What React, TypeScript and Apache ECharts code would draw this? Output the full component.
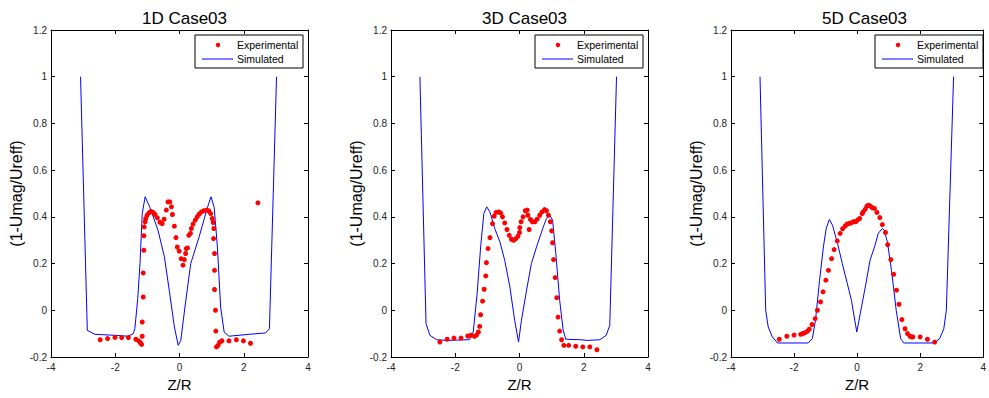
import React, { useEffect, useRef } from "react";
import * as echarts from "echarts";

const titles = ["1D Case03", "3D Case03", "5D Case03"];
const xTicks = [-4, -2, 0, 2, 4];
const yRange = [-0.2, 1.2];

const sim1D: [number, number][] = [
  [-3.08, 1.0], [-2.87, -0.086], [-2.63, -0.103], [-2.17, -0.106], [-1.6, -0.111], [-1.44, -0.1],
  [-1.39, -0.079], [-1.3, 0.05], [-1.23, 0.2], [-1.16, 0.414], [-1.07, 0.486], [-0.92, 0.44],
  [-0.67, 0.343], [-0.47, 0.229], [-0.32, 0.086], [-0.16, -0.071], [-0.04, -0.15], [0.04, -0.129],
  [0.17, 0.014], [0.35, 0.2], [0.61, 0.314], [0.87, 0.44], [0.98, 0.486], [1.08, 0.44],
  [1.18, 0.271], [1.28, 0.014], [1.39, -0.093], [1.54, -0.111], [2.16, -0.103], [2.68, -0.097],
  [2.8, -0.079], [3.02, 1.0],
];
const exp1D: [number, number][] = [
  [-2.47, -0.126], [-2.24, -0.121], [-2.01, -0.116], [-1.8, -0.117], [-1.59, -0.117], [-1.36, -0.124],
  [-1.27, -0.131], [-1.22, -0.139], [-1.18, -0.146], [-1.16, -0.111], [-1.16, -0.05], [-1.13, 0.057],
  [-1.13, 0.16], [-1.11, 0.257], [-1.11, 0.319], [-1.1, 0.357], [-1.07, 0.379], [-1.05, 0.393],
  [-1.01, 0.407], [-0.95, 0.417], [-0.89, 0.423], [-0.82, 0.419], [-0.76, 0.41], [-0.69, 0.396],
  [-0.61, 0.377], [-0.54, 0.371], [-0.48, 0.39], [-0.41, 0.429], [-0.36, 0.464], [-0.3, 0.464],
  [-0.25, 0.443], [-0.22, 0.41], [-0.16, 0.36], [-0.11, 0.311], [-0.07, 0.271], [-0.01, 0.253],
  [0.05, 0.221], [0.11, 0.193], [0.15, 0.217], [0.19, 0.243], [0.21, 0.264], [0.25, 0.267],
  [0.29, 0.321], [0.34, 0.329], [0.37, 0.35], [0.42, 0.369], [0.49, 0.386], [0.55, 0.4],
  [0.61, 0.411], [0.68, 0.421], [0.76, 0.426], [0.84, 0.429], [0.91, 0.426], [0.97, 0.414],
  [1.02, 0.393], [1.05, 0.376], [1.07, 0.35], [1.06, 0.307], [1.09, 0.243], [1.09, 0.171],
  [1.09, 0.089], [1.12, 0.0], [1.13, -0.089], [1.15, -0.157], [1.2, -0.15], [1.25, -0.137],
  [1.32, -0.131], [1.54, -0.131], [1.77, -0.126], [1.99, -0.131], [2.21, -0.141], [2.44, 0.46],
];

const sim3D: [number, number][] = [
  [-3.1, 1.0], [-2.91, -0.057], [-2.79, -0.107], [-2.58, -0.126], [-2.27, -0.129], [-1.56, -0.126],
  [-1.44, -0.093], [-1.32, 0.071], [-1.21, 0.271], [-1.11, 0.414], [-1.02, 0.443], [-0.92, 0.421],
  [-0.77, 0.35], [-0.61, 0.293], [-0.46, 0.214], [-0.3, 0.1], [-0.15, -0.043], [-0.03, -0.136],
  [0.06, -0.043], [0.22, 0.086], [0.37, 0.2], [0.53, 0.271], [0.74, 0.357], [0.84, 0.393],
  [0.94, 0.407], [1.03, 0.386], [1.13, 0.243], [1.25, 0.043], [1.36, -0.086], [1.44, -0.124],
  [1.88, -0.126], [2.13, -0.129], [2.5, -0.126], [2.7, -0.107], [2.81, -0.064], [3.02, 1.0],
];
const exp3D: [number, number][] = [
  [-2.48, -0.136], [-2.25, -0.124], [-2.04, -0.119], [-1.82, -0.119], [-1.61, -0.11], [-1.51, -0.107],
  [-1.4, -0.111], [-1.34, -0.106], [-1.28, -0.093], [-1.24, -0.069], [-1.21, -0.019], [-1.15, 0.039],
  [-1.1, 0.09], [-1.05, 0.147], [-1.03, 0.204], [-0.98, 0.264], [-0.92, 0.311], [-0.84, 0.371],
  [-0.79, 0.403], [-0.73, 0.419], [-0.65, 0.421], [-0.59, 0.417], [-0.53, 0.4], [-0.46, 0.374],
  [-0.39, 0.346], [-0.32, 0.321], [-0.25, 0.304], [-0.18, 0.3], [-0.11, 0.307], [-0.05, 0.317],
  [0.0, 0.333], [0.01, 0.354], [0.05, 0.379], [0.11, 0.4], [0.18, 0.426], [0.24, 0.429],
  [0.26, 0.407], [0.3, 0.346], [0.34, 0.389], [0.4, 0.379], [0.48, 0.379], [0.55, 0.39],
  [0.63, 0.407], [0.7, 0.421], [0.78, 0.431], [0.84, 0.426], [0.9, 0.407], [0.96, 0.379],
  [1.0, 0.34], [1.03, 0.289], [1.06, 0.217], [1.11, 0.14], [1.16, 0.054], [1.2, -0.029],
  [1.25, -0.089], [1.31, -0.126], [1.38, -0.15], [1.53, -0.15], [1.75, -0.154], [1.97, -0.157],
  [2.19, -0.157], [2.41, -0.169],
];

const sim5D: [number, number][] = [
  [-3.08, 1.0], [-2.9, 0.0], [-2.82, -0.071], [-2.69, -0.114], [-2.52, -0.14], [-1.55, -0.14],
  [-1.42, -0.121], [-1.32, -0.043], [-1.19, 0.129], [-1.07, 0.271], [-0.98, 0.35], [-0.88, 0.389],
  [-0.78, 0.364], [-0.62, 0.286], [-0.47, 0.2], [-0.31, 0.114], [-0.18, 0.043], [-0.01, -0.093],
  [0.1, -0.014], [0.26, 0.1], [0.41, 0.214], [0.57, 0.279], [0.67, 0.329], [0.8, 0.35],
  [0.86, 0.343], [0.96, 0.293], [1.09, 0.171], [1.24, 0.0], [1.38, -0.121], [1.48, -0.14],
  [2.44, -0.14], [2.62, -0.121], [2.75, -0.079], [2.83, 0.0], [3.06, 1.0],
];
const exp5D: [number, number][] = [
  [-2.47, -0.124], [-2.23, -0.111], [-2.0, -0.106], [-1.79, -0.103], [-1.73, -0.1], [-1.65, -0.096],
  [-1.58, -0.09], [-1.52, -0.081], [-1.43, -0.061], [-1.33, -0.036], [-1.26, 0.0], [-1.16, 0.036],
  [-1.08, 0.079], [-0.99, 0.129], [-0.91, 0.171], [-0.81, 0.221], [-0.73, 0.26], [-0.63, 0.297],
  [-0.54, 0.329], [-0.46, 0.349], [-0.38, 0.361], [-0.32, 0.369], [-0.26, 0.371], [-0.19, 0.374],
  [-0.12, 0.379], [-0.05, 0.379], [0.01, 0.386], [0.08, 0.393], [0.16, 0.414], [0.19, 0.421],
  [0.26, 0.433], [0.31, 0.446], [0.36, 0.45], [0.42, 0.446], [0.48, 0.439], [0.55, 0.436],
  [0.63, 0.419], [0.72, 0.397], [0.8, 0.367], [0.9, 0.333], [0.97, 0.281], [1.07, 0.217],
  [1.16, 0.154], [1.25, 0.086], [1.33, 0.026], [1.42, -0.04], [1.52, -0.079], [1.6, -0.1],
  [1.68, -0.111], [1.73, -0.114], [1.77, -0.114], [2.0, -0.114], [2.23, -0.124], [2.46, -0.136],
];

const simulated = [sim1D, sim3D, sim5D];
const experimental = [exp1D, exp3D, exp5D];

const FONT = "Liberation Sans, Arial, Helvetica, sans-serif";
const gridLefts = [51, 391, 731];
const GRID_TOP = 30;
const GRID_W = 257;
const GRID_H = 327;

export default function App() {
  const ref = useRef<HTMLDivElement>(null);
  useEffect(() => {
    if (!ref.current) return;
    const chart = echarts.init(ref.current, null, { renderer: "svg" });
    const grids: any[] = [];
    const xAxes: any[] = [];
    const yAxes: any[] = [];
    const series: any[] = [];
    const titleArr: any[] = [];
    const graphics: any[] = [];
    const fmt = (v: number) => String(Number(v.toFixed(1)));
    gridLefts.forEach((left, i) => {
      grids.push({ left, top: GRID_TOP, width: GRID_W, height: GRID_H, show: false });
      const xBase = {
        gridIndex: i, type: "value", min: xTicks[0], max: xTicks[xTicks.length - 1], interval: 2,
        splitLine: { show: false },
        axisLine: { show: true, onZero: false, lineStyle: { color: "#000", width: 1 } },
        axisTick: { show: true, inside: true, length: 4, lineStyle: { color: "#000" } },
      };
      xAxes.push({
        ...xBase, position: "bottom",
        axisLabel: { show: true, fontSize: 10, color: "#222", fontFamily: FONT, margin: 5 },
        name: "Z/R", nameLocation: "middle", nameGap: 19,
        nameTextStyle: { fontSize: 15, color: "#000", fontFamily: FONT },
      });
      xAxes.push({ ...xBase, position: "top", axisLabel: { show: false } });
      const yBase = {
        gridIndex: i, type: "value", min: yRange[0], max: yRange[1], interval: 0.2,
        splitLine: { show: false },
        axisLine: { show: true, onZero: false, lineStyle: { color: "#000", width: 1 } },
        axisTick: { show: true, inside: true, length: 4, lineStyle: { color: "#000" } },
      };
      yAxes.push({
        ...yBase, position: "left",
        axisLabel: { show: true, fontSize: 10, color: "#222", fontFamily: FONT, margin: 4, formatter: fmt },
        name: "(1-Umag/Ureff)", nameLocation: "middle", nameGap: 27,
        nameTextStyle: { fontSize: 16, color: "#000", fontFamily: FONT },
      });
      yAxes.push({ ...yBase, position: "right", axisLabel: { show: false } });
      series.push({
        name: "Simulated", type: "line", xAxisIndex: i * 2, yAxisIndex: i * 2,
        data: simulated[i], showSymbol: false, symbol: "none",
        lineStyle: { color: "#0000ff", width: 1 }, z: 2,
      });
      series.push({
        name: "Experimental", type: "scatter", xAxisIndex: i * 2, yAxisIndex: i * 2,
        data: experimental[i], symbol: "circle", symbolSize: 5,
        itemStyle: { color: "#ff0000", opacity: 1 }, z: 3,
      });
      titleArr.push({
        text: titles[i], left: left + GRID_W / 2, top: 5, textAlign: "center",
        textStyle: { fontSize: 17, fontWeight: "normal", color: "#000", fontFamily: FONT },
      });
      const lx = left + 144;
      const ly = 35;
      graphics.push({
        type: "group", z: 100,
        children: [
          { type: "rect", shape: { x: lx, y: ly, width: 108, height: 33 }, style: { fill: "#fff", stroke: "#000", lineWidth: 1 } },
          { type: "circle", shape: { cx: lx + 23, cy: ly + 10, r: 2.2 }, style: { fill: "#ff0000" } },
          { type: "text", x: lx + 42, y: ly + 10, style: { text: "Experimental", fontSize: 10.5, fontFamily: FONT, fill: "#000", textVerticalAlign: "middle", verticalAlign: "middle" } },
          { type: "line", shape: { x1: lx + 7, y1: ly + 24, x2: lx + 38, y2: ly + 24 }, style: { stroke: "#0000ff", lineWidth: 1 } },
          { type: "text", x: lx + 42, y: ly + 24, style: { text: "Simulated", fontSize: 10.5, fontFamily: FONT, fill: "#000", textVerticalAlign: "middle", verticalAlign: "middle" } },
        ],
      });
    });
    chart.setOption({
      animation: false,
      backgroundColor: "#fff",
      title: titleArr,
      grid: grids,
      xAxis: xAxes,
      yAxis: yAxes,
      series,
      graphic: graphics,
    });
    return () => chart.dispose();
  }, []);
  return <div ref={ref} style={{ position: "absolute", left: 0, top: 0, width: 989, height: 398 }} />;
}
